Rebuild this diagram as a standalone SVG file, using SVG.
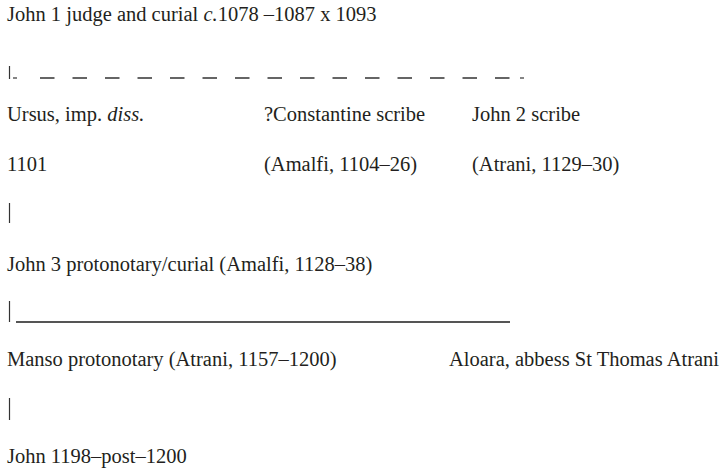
<svg xmlns="http://www.w3.org/2000/svg" width="723" height="473" viewBox="0 0 723 473">
<style>
  text { font-family: "Liberation Serif", "Times New Roman", serif; font-size: 20.5px; fill: #231f20; }
  .it { font-style: italic; }
  .tick { stroke: #333; stroke-width: 1.2; fill: none; }
  .dash { stroke: #333; stroke-width: 1.3; fill: none; stroke-dasharray: 14.5 18; }
  .rule { stroke: #555; stroke-width: 1.8; fill: none; }
</style>
<rect width="723" height="473" fill="#ffffff"/>
<g id="connectors">
  <line class="tick" x1="9.5" y1="66" x2="9.5" y2="79"/>
  <line class="tick" x1="13" y1="78" x2="17" y2="78"/>
  <line class="dash" x1="40" y1="78" x2="510" y2="78"/>
  <line class="tick" x1="520" y1="78" x2="524" y2="78"/>
  <line class="tick" x1="9.5" y1="203" x2="9.5" y2="223"/>
  <line class="tick" x1="9.5" y1="301" x2="9.5" y2="322"/>
  <line class="rule" x1="16" y1="322" x2="510" y2="322"/>
  <line class="tick" x1="9.5" y1="398" x2="9.5" y2="420"/>
</g>
<g id="john1"><text x="7" y="21">John 1 judge and curial <tspan class="it">c.</tspan>1078 –1087 x 1093</text></g>
<g id="ursus"><text x="7" y="121">Ursus, imp. <tspan class="it">diss.</tspan></text><text x="7" y="171">1101</text></g>
<g id="constantine"><text x="264" y="121">?Constantine scribe</text><text x="264" y="171">(Amalfi, 1104–26)</text></g>
<g id="john2"><text x="472" y="121">John 2 scribe</text><text x="472" y="171">(Atrani, 1129–30)</text></g>
<g id="john3"><text x="7" y="271">John 3 protonotary/curial (Amalfi, 1128–38)</text></g>
<g id="manso"><text x="7" y="366">Manso protonotary (Atrani, 1157–1200)</text></g>
<g id="aloara"><text x="449" y="366">Aloara, abbess St Thomas Atrani</text></g>
<g id="john1198"><text x="7" y="463">John 1198–post–1200</text></g>
</svg>
